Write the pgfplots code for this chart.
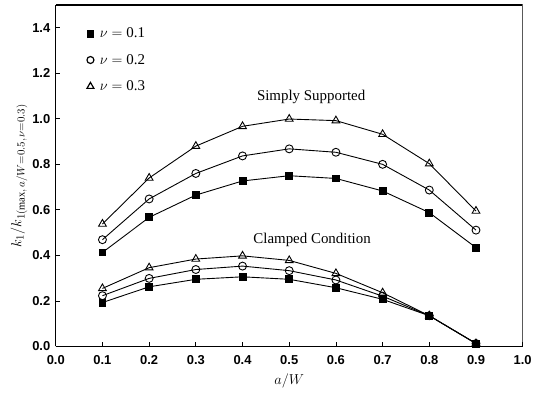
\documentclass[border=0pt]{standalone}
\usepackage{fontspec}
\setmainfont{Liberation Serif}
\setsansfont{Liberation Sans}
\usepackage{pgfplots}
\pgfplotsset{compat=1.18}
\begin{document}
\begin{tikzpicture}
\begin{axis}[
  scale only axis,
  width=469pt, height=343pt,
  xmin=0, xmax=1.0, ymin=0, ymax=1.5,
  xtick={0,0.1,...,1.0}, ytick={0,0.2,...,1.4},
  xticklabel style={/pgf/number format/fixed, /pgf/number format/fixed zerofill, /pgf/number format/precision=1, yshift=-6pt},
  yticklabel style={/pgf/number format/fixed, /pgf/number format/fixed zerofill, /pgf/number format/precision=1, xshift=-2pt},
  /pgf/number format/assume math mode=true,
  ticklabel style={font=\sffamily\bfseries\fontsize{13}{15}\selectfont},
  tick align=inside,
  axis x line*=bottom, axis y line*=left,
  major tick length=4pt,
  axis line style={line width=1.2pt},
  every tick/.style={black, line width=0.8pt},
  xlabel={$a/W$}, ylabel={$k_1/k_{1(\max,\,a/W=0.5,\,\nu=0.3)}$},
  label style={font=\fontsize{15}{17}\selectfont},
  xlabel style={yshift=-2pt},
  ylabel style={yshift=-2pt},
  legend style={draw=none, fill=none, at={(rel axis cs:0.06,0.945)}, anchor=north west,
    font=\fontsize{15}{17}\selectfont, row sep=11pt, nodes={inner xsep=6pt}},
  legend cell align=left,
  every axis plot/.append style={black, line width=0.9pt},
]
\addlegendimage{only marks, mark=square*, mark size=3.5pt, black}
\addlegendentry{$\nu = $ 0.1}
\addlegendimage{only marks, mark=o, mark size=3.5pt, black, line width=1.2pt}
\addlegendentry{$\nu = $ 0.2}
\addlegendimage{only marks, mark=triangle, mark size=4pt, black, line width=1.2pt}
\addlegendentry{$\nu = $ 0.3}
% Simply supported
\addplot[mark=square*, mark size=3.5pt, forget plot] coordinates {
(0.1,0.413) (0.2,0.567) (0.3,0.665) (0.4,0.727) (0.5,0.750) (0.6,0.738) (0.7,0.683) (0.8,0.588) (0.9,0.434)};
\addplot[mark=o, mark size=4pt, forget plot] coordinates {
(0.1,0.469) (0.2,0.648) (0.3,0.760) (0.4,0.837) (0.5,0.868) (0.6,0.853) (0.7,0.800) (0.8,0.687) (0.9,0.511)};
\addplot[mark=triangle, mark size=4.5pt, forget plot] coordinates {
(0.1,0.538) (0.2,0.740) (0.3,0.880) (0.4,0.967) (0.5,0.999) (0.6,0.992) (0.7,0.932) (0.8,0.803) (0.9,0.595)};
% Clamped
\addplot[mark=square*, mark size=3.5pt, forget plot] coordinates {
(0.1,0.193) (0.2,0.262) (0.3,0.295) (0.4,0.306) (0.5,0.295) (0.6,0.258) (0.7,0.207) (0.8,0.135) (0.9,0.013)};
\addplot[mark=o, mark size=4pt, forget plot] coordinates {
(0.1,0.223) (0.2,0.299) (0.3,0.338) (0.4,0.353) (0.5,0.333) (0.6,0.292) (0.7,0.221) (0.8,0.135) (0.9,0.013)};
\addplot[mark=triangle, mark size=4.5pt, forget plot] coordinates {
(0.1,0.255) (0.2,0.346) (0.3,0.384) (0.4,0.398) (0.5,0.378) (0.6,0.321) (0.7,0.236) (0.8,0.135) (0.9,0.013)};
\node[font=\fontsize{15}{17}\selectfont] at (axis cs:0.547,1.095) {Simply Supported};
\node[font=\fontsize{15}{17}\selectfont] at (axis cs:0.549,0.47) {Clamped Condition};
\draw[line width=1.2pt] (rel axis cs:0,1) -- (rel axis cs:1,1) -- (rel axis cs:1,0);
\end{axis}
\path ([xshift=-56pt,yshift=-48pt]current axis.south west) rectangle ([xshift=10pt,yshift=5pt]current axis.north east);
\end{tikzpicture}
\end{document}
